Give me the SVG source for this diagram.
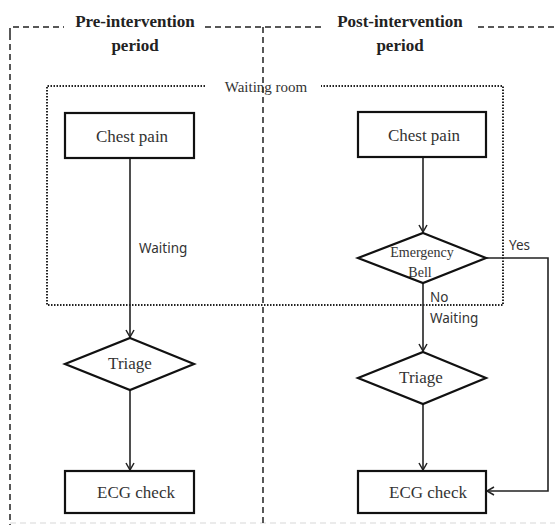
<svg xmlns="http://www.w3.org/2000/svg" width="555" height="525" viewBox="0 0 555 525" font-family="'Liberation Serif', serif">
<defs>
<style>
.frame{fill:none;stroke:#222;stroke-width:1.5;stroke-dasharray:6 4}
.dot{fill:none;stroke:#222;stroke-width:2;stroke-dasharray:1.5 1.5}
.box{fill:#fff;stroke:#111;stroke-width:2.2}
.conn{fill:none;stroke:#222;stroke-width:1.6}
.title{font-weight:bold;font-size:17px;fill:#222;text-anchor:middle}
.node{font-size:17px;fill:#333;text-anchor:middle}
.small{font-size:14px;fill:#333;text-anchor:middle}
.lbl{font-size:13.5px;fill:#333}
</style>
<marker id="arr" markerWidth="10" markerHeight="10" refX="8" refY="5" orient="auto" markerUnits="userSpaceOnUse">
<path d="M1,1 L8,5 L1,9" fill="none" stroke="#222" stroke-width="1.5"/>
</marker>
</defs>
<rect width="555" height="525" fill="#fff"/>
<g id="frame">
<path class="frame" d="M10,34 V27 H64"/>
<path class="frame" d="M205,27 H325"/>
<path class="frame" d="M478,27 H555"/>
<path class="frame" d="M10,34 V525"/>
<path class="frame" d="M263,27 V525"/>
<path class="frame" d="M10,523 H555" stroke-opacity="0.12"/>
<text class="title" x="135" y="27">Pre-intervention</text>
<text class="title" x="135" y="51">period</text>
<text class="title" x="400" y="27">Post-intervention</text>
<text class="title" x="400" y="51">period</text>
</g>
<g id="waiting-room">
<path class="dot" d="M205,86 H47 V305 H503 V86 H321"/>
<text x="266" y="92" font-size="15" fill="#333" text-anchor="middle">Waiting room</text>
</g>
<g id="connectors">
<line class="conn" x1="130" y1="158" x2="130" y2="337" marker-end="url(#arr)"/>
<line class="conn" x1="130" y1="390" x2="130" y2="470" marker-end="url(#arr)"/>
<line class="conn" x1="423" y1="157" x2="423" y2="232" marker-end="url(#arr)"/>
<line class="conn" x1="423" y1="283" x2="423" y2="351" marker-end="url(#arr)"/>
<line class="conn" x1="423" y1="404" x2="423" y2="470" marker-end="url(#arr)"/>
<path class="conn" d="M486,258 H548 V491 H487" marker-end="url(#arr)"/>
<g style="font-family:'Noto Sans','DejaVu Sans',sans-serif">
<text class="lbl" x="139" y="253">Waiting</text>
<text class="lbl" x="509" y="250">Yes</text>
<text class="lbl" x="430" y="302">No</text>
<text class="lbl" x="430" y="323">Waiting</text>
</g>
</g>
<g id="pre-chest-pain">
<rect class="box" x="65" y="113" width="129" height="45"/>
<text class="node" x="132" y="142">Chest pain</text>
</g>
<g id="pre-triage">
<polygon class="box" points="130,338 194,364 130,390 65,364"/>
<text class="node" x="130" y="369">Triage</text>
</g>
<g id="pre-ecg">
<rect class="box" x="65" y="471" width="129" height="42"/>
<text class="node" x="136" y="498">ECG check</text>
</g>
<g id="post-chest-pain">
<rect class="box" x="358" y="112" width="128" height="45"/>
<text class="node" x="424" y="141">Chest pain</text>
</g>
<g id="post-emergency-bell">
<polygon class="box" points="423,233 486,258 423,283 358,258"/>
<text class="small" x="422" y="257">Emergency</text>
<text class="small" x="420" y="277">Bell</text>
</g>
<g id="post-triage">
<polygon class="box" points="423,352 486,378 423,404 358,378"/>
<text class="node" x="421" y="383">Triage</text>
</g>
<g id="post-ecg">
<rect class="box" x="358" y="471" width="128" height="42"/>
<text class="node" x="428" y="498">ECG check</text>
</g>
</svg>
